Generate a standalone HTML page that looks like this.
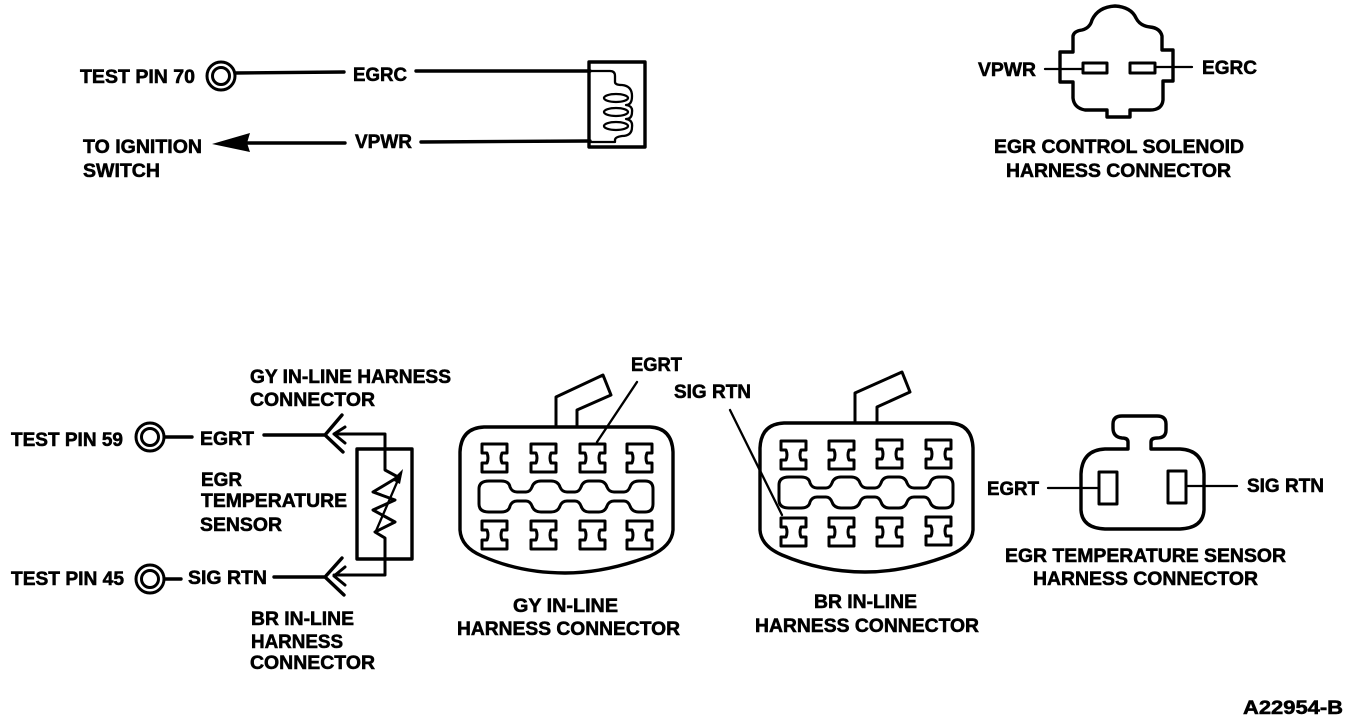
<!DOCTYPE html>
<html>
<head>
<meta charset="utf-8">
<style>
html,body{margin:0;padding:0;background:#fff;width:1360px;height:722px;overflow:hidden}
svg{display:block}
text{font-family:"Liberation Sans",sans-serif;font-weight:bold;font-size:19px;fill:#000;stroke:#000;stroke-width:.55px}
.t{fill:none;stroke:#000;stroke-width:3.4;stroke-linejoin:round;stroke-linecap:round}
.m{fill:none;stroke:#000;stroke-width:3;stroke-linejoin:round;stroke-linecap:round}
.n{fill:none;stroke:#000;stroke-width:2.3;stroke-linejoin:round;stroke-linecap:round}
</style>
</head>
<body>
<svg width="1360" height="722" viewBox="0 0 1360 722" xmlns="http://www.w3.org/2000/svg">
<defs>
<path id="pin" class="m" d="M0,0H25V9H20Q18,14 20,19H25V28H0V19H5Q7,14 5,9H0Z"/>
<path id="slot" class="m" d="M10,0H22Q30,0 31,6Q33,11 38,11H47Q51,11 53,6Q55,0 62,0H72Q79,0 81,6Q83,11 88,11H96Q100,11 102,6Q104,0 110,0H120Q126,0 128,6Q130,11 135,11H145Q149,11 151,6Q153,0 160,0H166Q174,0 174,8V23Q174,31 166,31H160Q153,31 151,25Q149,20 145,20H135Q130,20 128,25Q126,31 120,31H110Q104,31 102,25Q100,20 96,20H88Q83,20 81,25Q79,31 72,31H62Q55,31 53,25Q51,20 47,20H38Q33,20 31,25Q30,31 22,31H10Q0,31 0,23V8Q0,0 10,0Z"/>
</defs>

<!-- Top left: solenoid circuit -->
<text x="80" y="83" textLength="115" lengthAdjust="spacingAndGlyphs">TEST PIN 70</text>
<circle cx="221" cy="76" r="14" class="m"/>
<circle cx="221" cy="76" r="8.5" class="m"/>
<path class="t" d="M235,73L344,72"/>
<text x="353" y="81" textLength="54" lengthAdjust="spacingAndGlyphs">EGRC</text>
<path class="t" d="M416,71L590,71"/>
<rect x="589" y="62" width="56" height="85" class="t"/>
<path class="n" d="M590,71H610Q615,71 615,76V82Q615,85 622,85Q632,86 632,96Q632,105 626,105Q633,106 632,112Q632,119 626,119Q633,120 632,127Q632,136 622,136Q615,137 615,140V142H590"/>
<ellipse cx="616" cy="98" rx="12" ry="4" class="n"/>
<ellipse cx="616" cy="112" rx="12" ry="4" class="n"/>
<ellipse cx="616" cy="126" rx="12" ry="4" class="n"/>
<text x="83" y="153" textLength="119" lengthAdjust="spacingAndGlyphs">TO IGNITION</text>
<text x="83" y="177" textLength="77" lengthAdjust="spacingAndGlyphs">SWITCH</text>
<polygon points="212,144 250,133 247,143 250,152" fill="#000"/>
<path class="t" d="M245,143H345"/>
<text x="355" y="148" textLength="57" lengthAdjust="spacingAndGlyphs">VPWR</text>
<path class="t" d="M421,142L590,141"/>

<!-- Top right: solenoid connector -->
<path class="t" d="M1073,52V36Q1074,31 1082,30Q1090,28 1092,20Q1098,7 1115,6Q1131,7 1136,18Q1140,26 1150,27Q1160,28 1162,36V50H1173V81H1163V100Q1162,110 1150,110H1130V117H1107V110H1085Q1074,108 1073,98V82H1060V52Z"/>
<path class="n" d="M1045,69H1083M1155,67H1192"/>
<rect x="1083" y="63" width="24" height="10" class="m"/>
<rect x="1130" y="63" width="25" height="10" class="m"/>
<text x="978" y="76" textLength="58" lengthAdjust="spacingAndGlyphs">VPWR</text>
<text x="1202" y="74" textLength="55" lengthAdjust="spacingAndGlyphs">EGRC</text>
<text x="994" y="153" textLength="250" lengthAdjust="spacingAndGlyphs">EGR CONTROL SOLENOID</text>
<text x="1006" y="177" textLength="225" lengthAdjust="spacingAndGlyphs">HARNESS CONNECTOR</text>

<!-- Bottom left: sensor circuit -->
<text x="250" y="383" textLength="201" lengthAdjust="spacingAndGlyphs">GY IN-LINE HARNESS</text>
<text x="250" y="406" textLength="125" lengthAdjust="spacingAndGlyphs">CONNECTOR</text>
<text x="11" y="446" textLength="112" lengthAdjust="spacingAndGlyphs">TEST PIN 59</text>
<circle cx="150" cy="437" r="14" class="m"/>
<circle cx="150" cy="437" r="8.5" class="m"/>
<path class="t" d="M165,437H192"/>
<text x="200" y="445" textLength="54" lengthAdjust="spacingAndGlyphs">EGRT</text>
<path class="t" d="M264,435H325M342,415L325,435L343,452"/>
<path class="m" d="M345,427L334,434L345,443M334,434H385V470L398,477L373,492L395,500L373,510L395,522L375,532L385,538V575H334M345,567L334,576L345,585"/>
<rect x="357" y="449" width="55" height="110" class="t"/>
<path class="n" d="M376,531L401,473"/>
<polygon points="403,469 392,480 400,484" fill="#000"/>
<text x="201" y="486" textLength="41" lengthAdjust="spacingAndGlyphs">EGR</text>
<text x="201" y="507" textLength="146" lengthAdjust="spacingAndGlyphs">TEMPERATURE</text>
<text x="200" y="531" textLength="82" lengthAdjust="spacingAndGlyphs">SENSOR</text>
<text x="11" y="585" textLength="113" lengthAdjust="spacingAndGlyphs">TEST PIN 45</text>
<circle cx="150" cy="579" r="14" class="m"/>
<circle cx="150" cy="579" r="8.5" class="m"/>
<path class="t" d="M165,579H181"/>
<text x="188" y="584" textLength="79" lengthAdjust="spacingAndGlyphs">SIG RTN</text>
<path class="t" d="M274,577H325M342,558L325,577L344,595"/>
<text x="251" y="625" textLength="103" lengthAdjust="spacingAndGlyphs">BR IN-LINE</text>
<text x="251" y="648" textLength="92" lengthAdjust="spacingAndGlyphs">HARNESS</text>
<text x="250" y="669" textLength="125" lengthAdjust="spacingAndGlyphs">CONNECTOR</text>

<!-- GY connector -->
<path class="t" d="M484,427H650Q672,428 673,452V530Q672,546 650,556Q605,573 565,573Q520,573 482,556Q461,547 460,530V452Q461,428 484,427Z"/>
<path class="m" d="M556,425V397L603,375L611,395L577,410V425"/>
<path class="n" d="M637,382L597,442"/>
<use href="#pin" x="482" y="444"/><use href="#pin" x="531" y="444"/><use href="#pin" x="580" y="444"/><use href="#pin" x="627" y="444"/>
<use href="#slot" x="479" y="481"/>
<use href="#pin" x="482" y="521"/><use href="#pin" x="531" y="521"/><use href="#pin" x="580" y="521"/><use href="#pin" x="627" y="521"/>
<text x="631" y="371" textLength="51" lengthAdjust="spacingAndGlyphs">EGRT</text>
<text x="513" y="612" textLength="105" lengthAdjust="spacingAndGlyphs">GY IN-LINE</text>
<text x="457" y="635" textLength="223" lengthAdjust="spacingAndGlyphs">HARNESS CONNECTOR</text>

<!-- BR connector -->
<path class="t" d="M784,423H950Q972,424 973,448V530Q972,546 950,555Q905,572 865,572Q822,572 782,555Q761,546 760,530V448Q761,424 784,423Z"/>
<path class="m" d="M855,421V393L902,372L910,392L877,407V421"/>
<path class="n" d="M730,410L782,515"/>
<use href="#pin" x="781" y="441"/><use href="#pin" x="829" y="441"/><use href="#pin" x="877" y="440"/><use href="#pin" x="926" y="440"/>
<use href="#slot" x="779" y="477"/>
<use href="#pin" x="781" y="518"/><use href="#pin" x="829" y="518"/><use href="#pin" x="877" y="518"/><use href="#pin" x="926" y="517"/>
<text x="674" y="398" textLength="77" lengthAdjust="spacingAndGlyphs">SIG RTN</text>
<text x="814" y="608" textLength="103" lengthAdjust="spacingAndGlyphs">BR IN-LINE</text>
<text x="755" y="632" textLength="224" lengthAdjust="spacingAndGlyphs">HARNESS CONNECTOR</text>

<!-- Sensor connector -->
<path class="t" d="M1128,449V442Q1128,438 1122,438Q1113,437 1113,428V424Q1113,416 1122,416H1157Q1166,416 1166,424V430Q1166,438 1157,438Q1151,438 1151,442V449H1180Q1203,450 1204,474V510Q1203,528 1180,529H1105Q1082,528 1081,510V474Q1082,450 1105,449Z"/>
<rect x="1099" y="472" width="18" height="32" class="m"/>
<rect x="1168" y="471" width="18" height="32" class="m"/>
<path class="n" d="M1048,488H1099M1186,486H1237"/>
<text x="987" y="495" textLength="52" lengthAdjust="spacingAndGlyphs">EGRT</text>
<text x="1247" y="492" textLength="77" lengthAdjust="spacingAndGlyphs">SIG RTN</text>
<text x="1005" y="562" textLength="281" lengthAdjust="spacingAndGlyphs">EGR TEMPERATURE SENSOR</text>
<text x="1033" y="585" textLength="225" lengthAdjust="spacingAndGlyphs">HARNESS CONNECTOR</text>

<text x="1243" y="714" textLength="100" lengthAdjust="spacingAndGlyphs">A22954-B</text>
</svg>
</body>
</html>
